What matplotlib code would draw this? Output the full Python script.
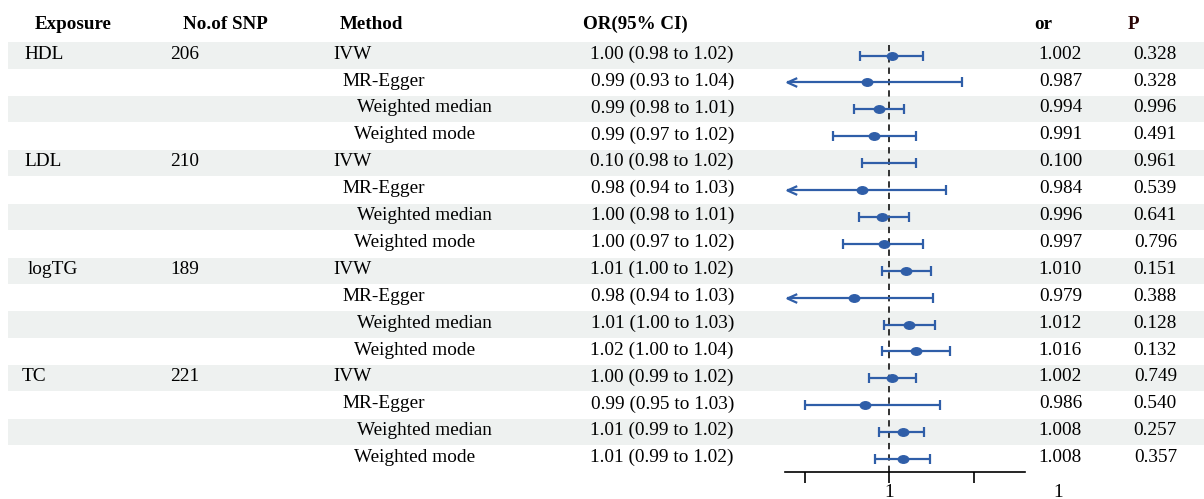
"""
Forest plot of MR estimates for four lipid exposures, drawn as a table
with banded rows and a small forest panel on the right.
"""
import matplotlib
matplotlib.use("Agg")
import matplotlib.pyplot as plt
from matplotlib.path import Path
from matplotlib.transforms import Affine2D

plt.rcParams['font.family'] = ['Liberation Serif', 'DejaVu Serif']

exposures = ['HDL', 'LDL', 'logTG', 'TC']
n_snp = [206, 210, 189, 221]
methods = ['IVW', 'MR-Egger', 'Weighted median', 'Weighted mode']

or_ci_text = [
    '1.00 (0.98 to 1.02)', '0.99 (0.93 to 1.04)', '0.99 (0.98 to 1.01)', '0.99 (0.97 to 1.02)',
    '0.10 (0.98 to 1.02)', '0.98 (0.94 to 1.03)', '1.00 (0.98 to 1.01)', '1.00 (0.97 to 1.02)',
    '1.01 (1.00 to 1.02)', '0.98 (0.94 to 1.03)', '1.01 (1.00 to 1.03)', '1.02 (1.00 to 1.04)',
    '1.00 (0.99 to 1.02)', '0.99 (0.95 to 1.03)', '1.01 (0.99 to 1.02)', '1.01 (0.99 to 1.02)',
]
or_vals = [1.002, 0.987, 0.994, 0.991,
           0.100, 0.984, 0.996, 0.997,
           1.010, 0.979, 1.012, 1.016,
           1.002, 0.986, 1.008, 1.008]
p_vals = ['0.328', '0.328', '0.996', '0.491',
          '0.961', '0.539', '0.641', '0.796',
          '0.151', '0.388', '0.128', '0.132',
          '0.749', '0.540', '0.257', '0.357']
# CI limits
ci_lo = [0.983, 0.932, 0.979, 0.967,
         0.984, 0.937, 0.982, 0.973,
         0.996, 0.936, 0.997, 0.996,
         0.988, 0.950, 0.994, 0.992]
ci_hi = [1.020, 1.043, 1.009, 1.016,
         1.016, 1.034, 1.012, 1.020,
         1.025, 1.026, 1.027, 1.036,
         1.016, 1.030, 1.021, 1.024]

W, H = 1204, 499
ROW0, ROWH = 55.5, 26.9          # pixel centre of first row, row pitch
FS = 13.9
FS_HDR = 13.7
BLUE = '#2f5ea8'
BAND = '#eef1f0'

fig = plt.figure(figsize=(W / 100, H / 100), dpi=100)

# table axes: x in pixels, y in row units
ax = fig.add_axes([0, 0, 1, 1])
ax.set_xlim(0, W)
ax.set_ylim((H - ROW0) / ROWH, -ROW0 / ROWH)
ax.axis('off')

n_rows = len(or_vals)
for i in range(n_rows):
    if i % 2 == 0:
        ax.axhspan(i - 0.49, i + 0.49, xmin=8 / W, xmax=1, color=BAND, lw=0, zorder=0)

# headers
hy = -1.17
hdr = dict(fontsize=FS_HDR, fontweight='bold', va='center')
ax.text(35, hy, 'Exposure', **hdr)
ax.text(183, hy, 'No.of SNP', **hdr)
ax.text(340, hy, 'Method', **hdr)
ax.text(583, hy, 'OR(95% CI)', **hdr)
ax.text(1034, hy, 'or', **hdr)
ax.text(1128, hy, 'P', color='#2a0606', **hdr)

exp_x = [24, 24, 28, 22]
meth_x = [333, 342, 357, 354]
for g, name in enumerate(exposures):
    r = g * len(methods)
    ax.text(exp_x[g], r - 0.05, name, fontsize=FS, va='center')
    ax.text(170, r - 0.05, str(n_snp[g]), fontsize=FS, va='center')
for i in range(n_rows):
    m = i % len(methods)
    y = i - 0.05
    ax.text(meth_x[m], y, methods[m], fontsize=FS, va='center')
    ax.text(734, y, or_ci_text[i], fontsize=FS, va='center', ha='right')
    ax.text(1082, y, f'{or_vals[i]:.3f}', fontsize=FS, va='center', ha='right')
    ax.text(1177, y, p_vals[i], fontsize=FS, va='center', ha='right')

# forest panel
x0_px, x1_px, one_px, scale = 785, 1025, 889, 1690.0
xlim = (1 + (x0_px - one_px) / scale, 1 + (x1_px - one_px) / scale)
y_top, y_bot = -0.4, 15.5
top_px = ROW0 + ROWH * y_top
bot_px = ROW0 + ROWH * y_bot
fx = fig.add_axes([x0_px / W, (H - bot_px) / H, (x1_px - x0_px) / W, (bot_px - top_px) / H])
fx.patch.set_alpha(0)
fx.set_xlim(*xlim)
fx.set_ylim(y_bot, y_top)
for s in ['top', 'left', 'right']:
    fx.spines[s].set_visible(False)
fx.spines['bottom'].set_linewidth(1.2)
fx.set_yticks([])
fx.set_xticks([0.95, 1.0, 1.05])
fx.set_xticklabels(['', '1', ''])
fx.tick_params(axis='x', length=8, width=1.2, labelsize=FS, pad=0.5)
# stray "1" label sitting to the right of the axis, as in the original
fx.annotate('1', xy=(1.1, 0), xycoords=fx.get_xaxis_transform(),
            xytext=(0, -8.5), textcoords='offset points',
            fontsize=FS, ha='center', va='top', annotation_clip=False)

fx.axvline(1.0, color='#222222', ls=(0, (3.5, 2.8)), lw=1.3, zorder=1)

ellipse = Path.unit_circle().transformed(Affine2D().scale(1, 0.72))
chevron = Path([(1, 0.45), (0, 0), (1, -0.45)], [Path.MOVETO, Path.LINETO, Path.LINETO])

for i in range(n_rows):
    lo, hi = ci_lo[i], ci_hi[i]
    clipped = lo < xlim[0]
    left = xlim[0] + 0.0012 if clipped else lo
    fx.plot([left, hi], [i, i], color=BLUE, lw=1.6, solid_capstyle='butt', zorder=2)
    fx.plot([hi], [i], marker='|', ms=7, mew=1.6, color=BLUE, zorder=2)
    if clipped:
        fx.plot([left], [i], marker=chevron, ms=14, mew=1.6, mfc='none', mec=BLUE, zorder=2)
    else:
        fx.plot([lo], [i], marker='|', ms=7, mew=1.6, color=BLUE, zorder=2)
    fx.plot([or_vals[i]], [i], marker=ellipse, ms=7.5, color=BLUE, mec=BLUE, zorder=3)

fig.savefig('out.png', dpi=100)
